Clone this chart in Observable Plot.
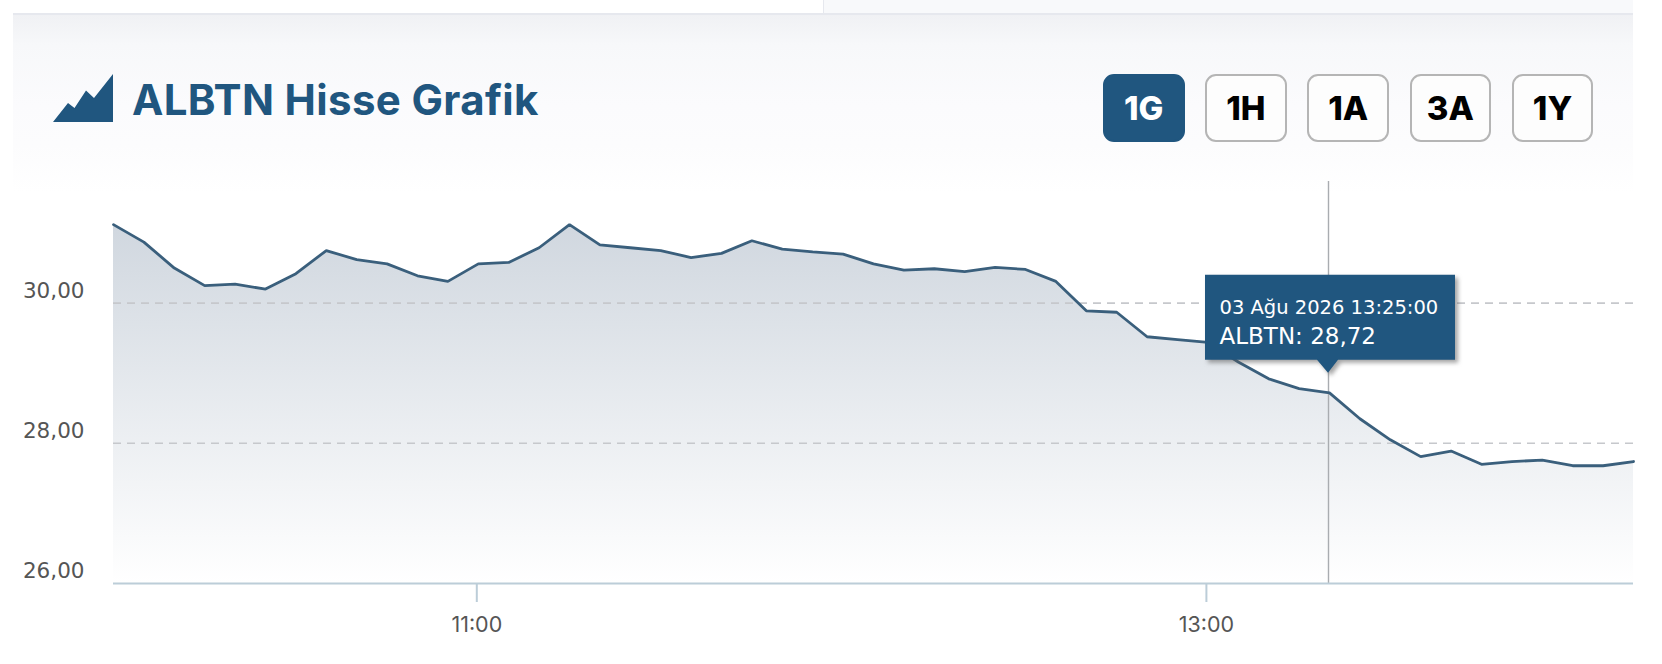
<!DOCTYPE html>
<html lang="tr">
<head>
<meta charset="utf-8">
<script src="https://cdn.jsdelivr.net/npm/d3@7"></script>
<script src="https://cdn.jsdelivr.net/npm/@observablehq/plot@0.6"></script>
<style>
html,body{margin:0;padding:0;background:#fff;width:1662px;height:664px;overflow:hidden;}
#page{position:relative;width:1662px;height:664px;}
#topfill{position:absolute;left:823px;top:0;width:810px;height:13px;background:#f8f9fb;border-left:1px solid #e6e8ee;box-sizing:border-box;}
#head{position:absolute;left:13px;top:13px;width:1620px;height:178px;border-top:2px solid #e6e8ee;box-sizing:border-box;background:linear-gradient(#f0f1f4 0,#f7f8fa 30px,#fbfbfd 90px,#fcfcfd 130px,#fff 178px);}
#icon{position:absolute;left:53px;top:74px;}
#title{position:absolute;left:132px;top:75px;font:700 42px/50px Inter,sans-serif;letter-spacing:.35px;color:#20567f;white-space:nowrap;}
.btn{position:absolute;top:74px;width:81.5px;height:68px;box-sizing:border-box;border:2px solid #b5b5b5;border-radius:11px;font:800 33px/64px Inter,sans-serif;color:#000;text-align:center;background:#fdfdfd;}
.btn.on{background:#20567f;border-color:#20567f;color:#fff;}
#chart{position:absolute;left:0;top:181px;}
</style>
</head>
<body>
<div id="page">
  <div id="topfill"></div>
  <div id="head"></div>
  <svg id="icon" width="60" height="48" viewBox="0 0 60 48"><path d="M0 48L15 29L21.5 34L33 16.5L41 24L60 0V48Z" fill="#20567f"/></svg>
  <div id="title"></div>
  <div id="buttons"></div>
  <div id="chart"></div>
</div>
<script>
const titleText = "ALBTN Hisse Grafik";
const ranges = ["1G", "1H", "1A", "3A", "1Y"];
const times = [
  "10:00","10:05","10:10","10:15","10:20","10:25","10:30","10:35","10:40","10:45",
  "10:50","10:55","11:00","11:05","11:10","11:15","11:20","11:25","11:30","11:35",
  "11:40","11:45","11:50","11:55","12:00","12:05","12:10","12:15","12:20","12:25",
  "12:30","12:35","12:40","12:45","12:50","12:55","13:00","13:05","13:15","13:20",
  "13:25","13:30","13:35","13:40","13:45","13:50","13:55","14:00","14:05","14:10","14:15"
];
const prices = [
  31.12,30.87,30.50,30.25,30.27,30.20,30.42,30.75,30.62,30.56,
  30.39,30.31,30.56,30.58,30.79,31.12,30.83,30.79,30.75,30.65,
  30.71,30.89,30.77,30.73,30.70,30.56,30.47,30.49,30.45,30.51,
  30.48,30.31,29.89,29.87,29.52,29.48,29.44,29.16,28.92,28.78,
  28.72,28.35,28.05,27.81,27.89,27.70,27.74,27.76,27.68,27.68,27.74
];
const yTicks = [26, 28, 30];
const xTicks = ["11:00", "13:00"];
const gridValues = [28, 30];
const tipTime = "13:25";
const tipDate = "03 Ağu 2026 13:25:00";
const tipValue = "ALBTN: 28,72";

document.getElementById("title").textContent = titleText;
const buttons = document.getElementById("buttons");
ranges.forEach((r, i) => {
  const b = document.createElement("div");
  b.className = "btn" + (i === 0 ? " on" : "");
  b.style.left = (1103 + i * 102.2) + "px";
  b.textContent = r;
  buttons.appendChild(b);
});

const rows = times.map((t, i) => ({time: t, price: prices[i]}));
const tipRow = rows.filter(d => d.time === tipTime);
const comma = v => v.toFixed(2).replace(".", ",");

const gradient = () => {
  const s = d3.create("svg:defs");
  const g = s.append("linearGradient").attr("id", "areaFill").attr("x1", 0).attr("x2", 0).attr("y1", 0).attr("y2", 1);
  g.append("stop").attr("offset", "0%").attr("stop-color", "#d0d7df");
  g.append("stop").attr("offset", "100%").attr("stop-color", "#ffffff");
  return s.node();
};

// Tooltip box, anchored to the hovered point through the chart's own scales.
const tipBox = (index, scales) => {
  const p = tipRow[0];
  const g = d3.create("svg:g")
    .attr("transform", `translate(${scales.x(p.time)},${scales.y(p.price)})`)
    .style("filter", "drop-shadow(3px 3px 2px rgba(90,90,90,.55))");
  g.append("path")
    .attr("d", "M-1,-19.5L-12,-32.5H-124V-117.5H126V-32.5H9Z")
    .attr("fill", "#20567f");
  return g.node();
};

const chart = Plot.plot({
  width: 1662, height: 483,
  marginLeft: 113, marginRight: 29, marginTop: 0, marginBottom: 81,
  style: {background: "transparent", overflow: "visible"},
  x: {type: "point", domain: times, padding: 0, round: false, label: null},
  y: {domain: [26, 31.735], label: null},
  marks: [
    gradient,
    Plot.areaY(rows, {x: "time", y1: 26, y2: "price", fill: "url(#areaFill)"}),
    Plot.ruleY(gridValues, {stroke: "#c6c8cc", strokeWidth: 1.6, strokeDasharray: "8 6"}),
    Plot.ruleX(tipRow, {x: "time", dx: -1, stroke: "#a9acb0", strokeWidth: 1.4}),
    Plot.lineY(rows, {x: "time", y: "price", stroke: "#3a5f7c", strokeWidth: 2.8, strokeLinejoin: "miter"}),
    Plot.ruleY([26], {stroke: "#bccdd8", strokeWidth: 2}),
    Plot.axisX({ticks: xTicks, tickSize: 19, tickPadding: 14, dx: -1.5, stroke: "#bccdd8", strokeWidth: 2, fill: "#555", fontSize: 21.5, fontFamily: "Inter, sans-serif", tickFormat: d => d, label: null}),
    Plot.axisY({ticks: yTicks, tickSize: 0, tickPadding: 29, dy: -12, fill: "#555", fontSize: 21.5, fontFamily: "'DejaVu Sans', sans-serif", tickFormat: comma, label: null}),
    tipBox,
    Plot.text(tipRow, {x: "time", y: "price", text: () => tipDate, dx: -110, dy: -85.5, textAnchor: "start", fill: "#fff", fontSize: 19.5, fontFamily: "'DejaVu Sans', sans-serif"}),
    Plot.text(tipRow, {x: "time", y: "price", text: () => tipValue, dx: -110, dy: -56.5, textAnchor: "start", fill: "#fff", fontSize: 23, fontFamily: "'DejaVu Sans', sans-serif"})
  ]
});
document.getElementById("chart").appendChild(chart);
</script>
</body>
</html>
